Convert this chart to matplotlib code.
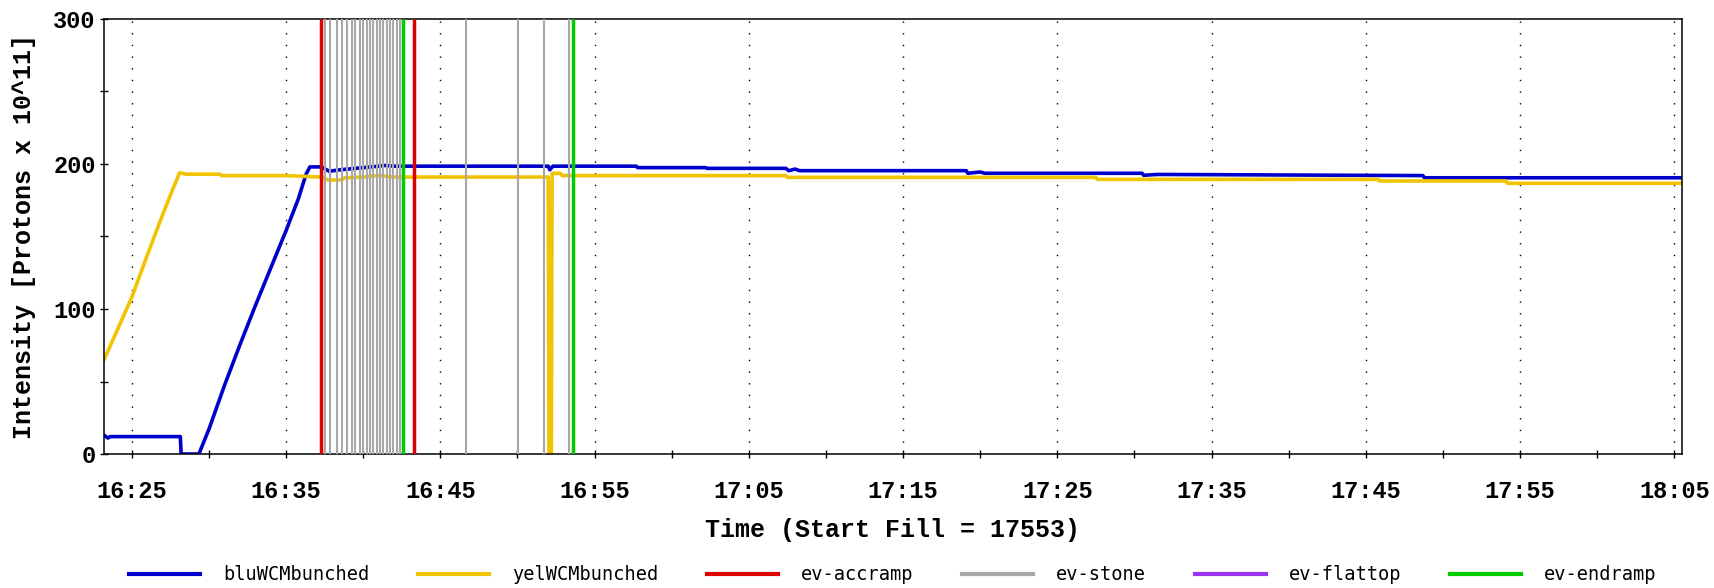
import matplotlib
matplotlib.use("Agg")
import matplotlib.pyplot as plt
from matplotlib.lines import Line2D
from matplotlib.ticker import FixedLocator

# ---------------- data (time in minutes after 16:00) ----------------
blu_t = [23.2, 23.45, 23.6, 28.15, 28.2, 29.35, 30.0, 31.0, 32.0, 33.0, 34.0, 35.0,
         35.8, 36.3, 36.55, 37.3, 37.8, 38.5, 39.0, 39.5, 40.0, 40.5, 41.0, 41.4,
         42.0, 43.0, 52.0, 52.1, 52.3, 57.7, 57.8, 62.2, 62.3, 67.4, 67.6, 68.0,
         68.3, 79.1, 79.2, 80.0, 80.3, 90.5, 90.6, 91.5, 108.7, 108.8, 125.5]
blu_v = [13, 11, 12, 12, 0, 0, 17, 47, 75, 102, 128, 154,
         176, 193, 198, 198, 195, 196, 196.5, 197, 197.5, 198, 198.5, 199,
         198.5, 198.5, 198.5, 196, 198.5, 198.5, 197.5, 197.5, 197, 197, 195.4, 196.5,
         195.4, 195.4, 193.6, 194.5, 193.6, 193.6, 192.2, 192.8, 192.0, 190.5, 190.5]

yel_t = [23.2, 24.0, 25.0, 26.0, 27.0, 27.6, 28.1, 28.5, 30.7, 30.8, 35.0, 37.3,
         37.7, 38.6, 38.8, 40.0, 41.0, 42.0, 43.0, 52.0, 52.05, 52.2, 52.25, 52.8,
         52.9, 67.4, 67.5, 87.5, 87.6, 105.8, 105.9, 114.1, 114.2, 125.5]
yel_v = [65, 84, 108, 137, 165, 181, 194, 193, 193, 192, 192, 191,
         189, 189, 190.5, 191, 192, 191, 191, 191, 0, 0, 193.5, 193.5,
         192, 192, 190.8, 190.8, 189.4, 189.4, 188.3, 188.3, 186.7, 186.7]

accramp_t = [37.24, 43.31]
stone_t = [37.52, 37.84, 38.29, 38.62, 38.94, 39.27, 39.46, 39.79, 39.98, 40.24,
           40.43, 40.63, 40.89, 41.08, 41.28, 41.54, 41.73, 41.93, 42.19, 42.38,
           46.64, 50.05, 51.74, 53.32]
flattop_t = []
endramp_t = [42.57, 53.61]

xtick_minutes = [25, 35, 45, 55, 65, 75, 85, 95, 105, 115, 125]
xtick_labels = ["16:25", "16:35", "16:45", "16:55", "17:05", "17:15",
                "17:25", "17:35", "17:45", "17:55", "18:05"]
xminor_minutes = [30, 40, 50, 60, 70, 80, 90, 100, 110, 120]
ytick_values = [0, 100, 200, 300]
yminor_values = [50, 150, 250]

series_names = ["bluWCMbunched", "yelWCMbunched", "ev-accramp", "ev-stone",
                "ev-flattop", "ev-endramp"]

# ---------------- style ----------------
C_BLU = "#0000cc"
C_YEL = "#f0c400"
C_RED = "#dd0000"
C_GRAY = "#a8a8a8"
C_PUR = "#9933ee"
C_GRN = "#00cc00"

LABEL_FONT = ["Liberation Mono", "DejaVu Sans Mono"]
LEG_FONT = ["DejaVu Sans Mono"]

fig = plt.figure(figsize=(17.15, 5.88), dpi=100)
ax = fig.add_axes([104 / 1715, 1 - 454 / 588, 1578 / 1715, 435 / 588])

ax.plot(blu_t, blu_v, color=C_BLU, lw=2.6, zorder=2)
ax.plot(yel_t, yel_v, color=C_YEL, lw=2.6, zorder=2)

ax.vlines(stone_t, 0, 300, colors=C_GRAY, lw=1.5, zorder=3)
ax.vlines(accramp_t, 0, 300, colors=C_RED, lw=2.5, zorder=4)
if flattop_t:
    ax.vlines(flattop_t, 0, 300, colors=C_PUR, lw=2.5, zorder=4)
ax.vlines(endramp_t, 0, 300, colors=C_GRN, lw=2.5, zorder=4)

ax.set_xlim(23.2, 125.5)
ax.set_ylim(0, 300)

ax.xaxis.set_major_locator(FixedLocator(xtick_minutes))
ax.xaxis.set_minor_locator(FixedLocator(xminor_minutes))
ax.set_xticklabels(xtick_labels)
ax.yaxis.set_major_locator(FixedLocator(ytick_values))
ax.yaxis.set_minor_locator(FixedLocator(yminor_values))

ax.grid(axis="x", which="major", color="black", linestyle=(0, (1, 7.4)), lw=1.0, zorder=1)
ax.set_axisbelow(True)

for s in ax.spines.values():
    s.set_linewidth(1.1)
    s.set_color("black")

ax.tick_params(which="both", direction="inout", length=6, width=1.0,
               top=False, right=False, color="black")
ax.tick_params(axis="x", which="major", pad=16)
ax.tick_params(axis="y", which="major", pad=3)

for lab in ax.get_xticklabels() + ax.get_yticklabels():
    lab.set_family(LABEL_FONT)
    lab.set_fontweight("bold")
    lab.set_fontsize(17)

ax.set_xlabel("Time (Start Fill = 17553)", family=LABEL_FONT, fontweight="bold", fontsize=18)
ax.set_ylabel("Intensity [Protons x 10^11]", family=LABEL_FONT, fontweight="bold", fontsize=18,
              va="center")
ax.xaxis.set_label_coords(0.5, -0.148)
ax.yaxis.set_label_coords((24 - 104) / 1578, 0.5)

handles = [
    Line2D([], [], color=C_BLU, lw=3),
    Line2D([], [], color=C_YEL, lw=3),
    Line2D([], [], color=C_RED, lw=3),
    Line2D([], [], color=C_GRAY, lw=3),
    Line2D([], [], color=C_PUR, lw=3),
    Line2D([], [], color=C_GRN, lw=3),
]
fig.legend(handles, series_names, loc="center", ncol=6,
           bbox_to_anchor=(893 / 1715, 1 - 575 / 588), frameon=False,
           prop={"family": LEG_FONT, "size": 13.4},
           handlelength=3.8, handletextpad=1.25, columnspacing=2.62,
           borderpad=0, borderaxespad=0)

fig.savefig("out.png", dpi=100)
